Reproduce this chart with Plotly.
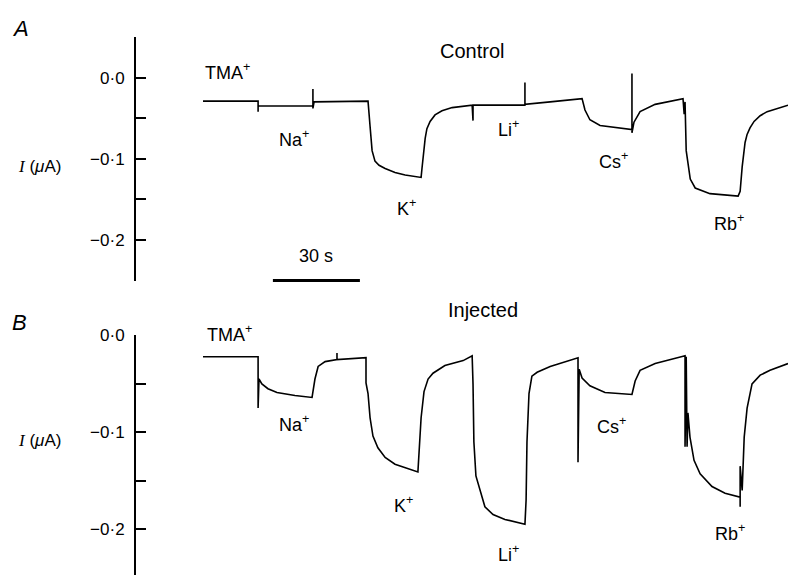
import plotly.graph_objects as go

# ---------------- data (time in s, current in µA) ----------------
control_t = [0.0, 19.0, 19.0, 19.0, 37.9, 37.9, 37.9, 38.3, 56.9, 57.6, 58.3, 59.3, 60.7, 62.8,
             66.2, 69.7, 75.2, 75.5, 76.0, 76.6, 77.2, 78.3, 80.0, 82.4, 85.9, 90.3, 92.8,
             93.1, 93.1, 111.0, 111.0, 111.0, 119.7, 130.7, 131.7, 133.4, 136.9, 147.9, 147.9,
             147.9, 148.6, 150.7, 155.9, 165.5, 165.9, 166.2, 166.6, 168.0, 169.7, 174.8,
             184.5, 185.2, 185.9, 186.9, 187.6, 188.6, 190.0, 192.1, 194.5, 197.2, 201.7]
control_i = [-0.029, -0.029, -0.042, -0.035, -0.035, -0.014, -0.038, -0.030, -0.029, -0.060,
             -0.090, -0.103, -0.108, -0.112, -0.117, -0.120, -0.123, -0.112, -0.092, -0.075,
             -0.063, -0.054, -0.046, -0.041, -0.037, -0.035, -0.034, -0.053, -0.034, -0.034,
             -0.006, -0.033, -0.030, -0.026, -0.040, -0.052, -0.059, -0.064, 0.005, -0.068,
             -0.055, -0.042, -0.033, -0.026, -0.045, -0.030, -0.090, -0.125, -0.136, -0.143,
             -0.146, -0.140, -0.110, -0.080, -0.070, -0.062, -0.054, -0.047, -0.042, -0.039,
             -0.034]

injected_t = [0.0, 19.0, 19.0, 19.3, 20.3, 22.4, 25.5, 31.7, 37.6, 38.6, 39.7, 42.1, 46.2, 46.2,
              46.2, 56.2, 56.2, 56.9, 57.6, 58.6, 60.3, 62.8, 66.2, 74.1, 74.5, 75.2, 76.2,
              77.6, 79.3, 83.4, 89.7, 92.8, 93.1, 93.4, 94.1, 95.5, 97.2, 100.0, 104.1, 111.0,
              111.4, 111.7, 112.4, 113.4, 115.2, 119.7, 124.8, 129.3, 129.3, 129.7, 130.7,
              133.4, 138.6, 147.9, 149.0, 150.7, 155.9, 166.2, 166.2, 166.6, 166.9, 167.2,
              167.9, 169.3, 171.4, 175.5, 180.0, 185.2, 185.2, 185.2, 185.9, 186.6, 187.6,
              189.3, 192.1, 195.5, 201.7]
injected_i = [-0.022, -0.022, -0.075, -0.045, -0.050, -0.055, -0.059, -0.062, -0.064, -0.045,
              -0.032, -0.027, -0.025, -0.018, -0.025, -0.023, -0.049, -0.060, -0.085, -0.104,
              -0.116, -0.126, -0.133, -0.141, -0.120, -0.085, -0.058, -0.045, -0.039, -0.031,
              -0.026, -0.021, -0.050, -0.110, -0.145, -0.160, -0.177, -0.185, -0.190, -0.195,
              -0.170, -0.110, -0.060, -0.042, -0.038, -0.032, -0.027, -0.023, -0.131, -0.035,
              -0.044, -0.052, -0.059, -0.061, -0.047, -0.036, -0.029, -0.021, -0.115, -0.022,
              -0.115, -0.080, -0.105, -0.129, -0.143, -0.156, -0.163, -0.167, -0.177, -0.135,
              -0.160, -0.105, -0.075, -0.050, -0.041, -0.036, -0.029]

ion_labels = ["TMA<sup>+</sup>", "Na<sup>+</sup>", "K<sup>+</sup>", "Li<sup>+</sup>",
              "Cs<sup>+</sup>", "Rb<sup>+</sup>"]
control_label_t = [0.0, 31.4, 70.0, 105.5, 141.7, 181.4]
control_label_i = [0.007, -0.075, -0.160, -0.063, -0.102, -0.179]
injected_label_t = [0.7, 31.4, 69.3, 105.2, 141.0, 181.7]
injected_label_i = [0.002, -0.091, -0.175, -0.225, -0.093, -0.204]

tick_vals = [-0.25, -0.2, -0.15, -0.1, -0.05, 0.0, 0.05]
tick_text = ["", "−0·2", "", "−0·1", "", "0·0", ""]

scale_bar_s = 30
scale_bar_start = 24.1

# ---------------- figure ----------------
W, H = 788, 575
FONT = "Liberation Sans, Arial, Helvetica, sans-serif"


def py(y_px):
    """paper y for a pixel row (compensates the observed vertical offset)."""
    return 1 - ((y_px - 8) / 0.986) / H


fig = go.Figure()
fig.add_trace(go.Scatter(x=control_t, y=control_i, mode="lines",
                         line=dict(color="black", width=1.6), xaxis="x", yaxis="y",
                         showlegend=False, hoverinfo="skip"))
fig.add_trace(go.Scatter(x=injected_t, y=injected_i, mode="lines",
                         line=dict(color="black", width=1.6), xaxis="x2", yaxis="y2",
                         showlegend=False, hoverinfo="skip"))

xr = [-23.1, 201.7]
xdom = [136 / W, 1.0]
yaxis_common = dict(showgrid=False, zeroline=False, showline=True, linecolor="black",
                    linewidth=2, ticks="inside", ticklen=10, tickwidth=2, tickcolor="black",
                    tickmode="array", tickvals=tick_vals, ticktext=tick_text,
                    tickfont=dict(family=FONT, size=17, color="black"),
                    ticklabelstandoff=6, fixedrange=True)

fig.update_layout(
    width=W, height=H, autosize=False,
    margin=dict(l=0, r=0, t=0, b=0),
    paper_bgcolor="white", plot_bgcolor="white",
    font=dict(family=FONT, color="black"),
    showlegend=False,
    xaxis=dict(domain=xdom, range=xr, visible=False, anchor="y"),
    yaxis=dict(domain=[py(280), py(36)], range=[-0.25, 0.05], anchor="x", **yaxis_common),
    xaxis2=dict(domain=xdom, range=xr, visible=False, anchor="y2"),
    yaxis2=dict(domain=[0.0, py(335)], range=[-0.2474, 0.0], anchor="x2", **yaxis_common),
)

ann = []
for txt, t, v in zip(ion_labels, control_label_t, control_label_i):
    ann.append(dict(text=txt, x=t, y=v, xref="x", yref="y", showarrow=False,
                    xanchor="left" if txt.startswith("TMA") else "center", yanchor="middle",
                    font=dict(size=18)))
for txt, t, v in zip(ion_labels, injected_label_t, injected_label_i):
    if v > 0:
        # above the axis top: place in paper coordinates
        ann.append(dict(text=txt, x=t, y=py(333), xref="x2", yref="paper", showarrow=False,
                        xanchor="left", yanchor="middle", font=dict(size=18)))
    else:
        ann.append(dict(text=txt, x=t, y=v, xref="x2", yref="y2", showarrow=False,
                        xanchor="center", yanchor="middle", font=dict(size=18)))
ann.append(dict(text="Control", x=92.8, y=0.033, xref="x", yref="y", showarrow=False,
                xanchor="center", yanchor="middle", font=dict(size=20)))
ann.append(dict(text="Injected", x=96.6, y=py(310), xref="x2", yref="paper", showarrow=False,
                xanchor="center", yanchor="middle", font=dict(size=20)))
ann.append(dict(text="30 s", x=scale_bar_start + scale_bar_s / 2, y=py(255),
                xref="x", yref="paper", showarrow=False, xanchor="center", yanchor="middle",
                font=dict(size=18)))
for letter, ypx in [("A", 28), ("B", 322)]:
    ann.append(dict(text="<i>" + letter + "</i>", x=10 / W, y=py(ypx), xref="paper",
                    yref="paper", xanchor="left", yanchor="middle", showarrow=False,
                    font=dict(size=22)))
for ypx in [166, 440]:
    ann.append(dict(text="<i><span style='font-family:Liberation Serif'>I</span></i> (<i>μ</i>A)",
                    x=16 / W, y=py(ypx), xref="paper", yref="paper", xanchor="left",
                    yanchor="middle", showarrow=False, font=dict(size=17)))
fig.update_layout(annotations=ann)

fig.add_shape(type="line", xref="x", yref="paper",
              x0=scale_bar_start, x1=scale_bar_start + scale_bar_s,
              y0=py(280), y1=py(280), line=dict(color="black", width=3))

fig.write_html("out.html")
